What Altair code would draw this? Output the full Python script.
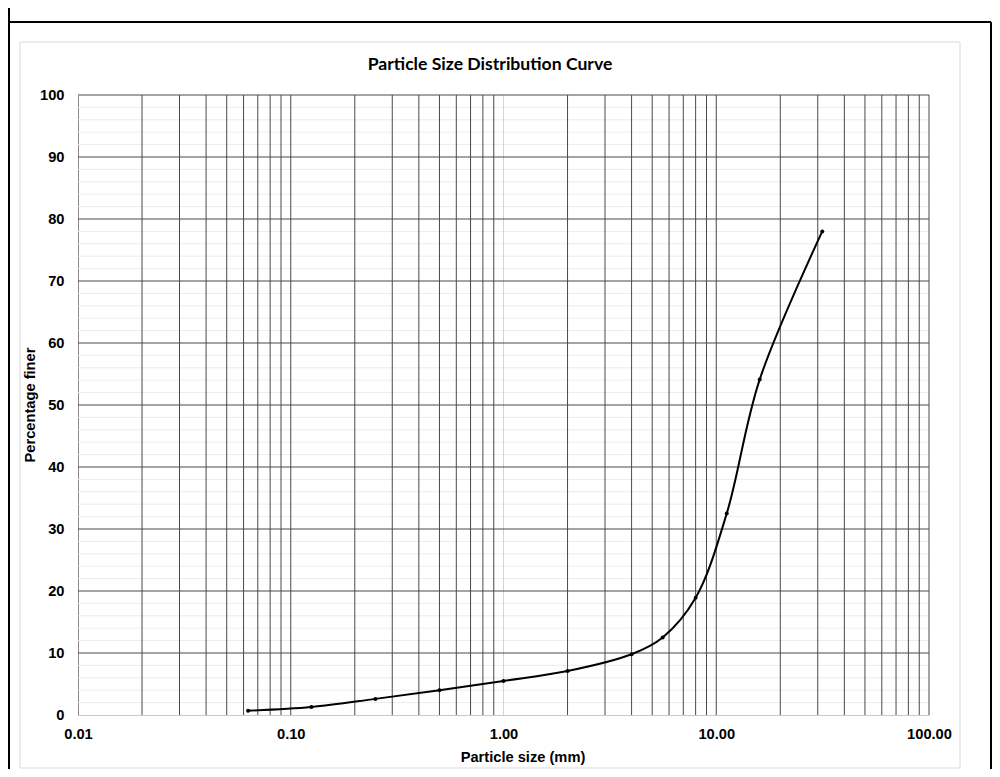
import altair as alt
import pandas as pd

# ---- data ----
sizes = [0.063, 0.125, 0.25, 0.5, 1.0, 2.0, 4.0, 5.6, 8.0, 11.2, 16.0, 31.5]
finer = [0.7, 1.3, 2.6, 4.0, 5.5, 7.1, 9.8, 12.5, 18.9, 32.5, 54.1, 78.0]

x_ticks = [0.01, 0.1, 1, 10, 100]
y_ticks = list(range(0, 101, 10))

chart_title = "Particle Size Distribution Curve"
x_title = "Particle size (mm)"
y_title = "Percentage finer"

# grid positions (log-cycle lines and 2% minor lines)
v_grid = [round(m * 10 ** e, 6) for e in range(-2, 2) for m in range(1, 10)
          if not (m == 1 and e == -2)] + [100]
v_grid_dark = [v for v in v_grid if v != 1]
v_grid_light = [1]
h_major = list(range(10, 101, 10))
h_minor = [v for v in range(2, 100, 2) if v % 10]

W, H = 851, 620
LBL_FONT = "Liberation Sans"
FS = 14.67

xscale = alt.Scale(type="log", domain=[0.01, 100], nice=False)
yscale = alt.Scale(domain=[0, 100], nice=False, zero=False)

xaxis = alt.Axis(values=x_ticks, format=".2f", grid=False, ticks=False, tickSize=0,
                 labelPadding=11, labelFont=LBL_FONT, labelFontSize=FS,
                 labelFontWeight="bold", labelColor="#000000",
                 domainColor="#c8c8c8", domainWidth=1, title="",
                 labelFlush=False, labelOverlap=False)
yaxis = alt.Axis(values=y_ticks, format="d", grid=False, ticks=False, tickSize=0,
                 labelPadding=14, labelFont=LBL_FONT, labelFontSize=FS,
                 labelFontWeight="bold", labelColor="#000000",
                 domainColor="#8a8a8a", domainWidth=1, title="",
                 labelFlush=False, labelOverlap=False)

curve_df = pd.DataFrame({"x": sizes, "y": finer})
dummy = alt.Data(values=[{"a": 1}])

GRID_DARK = "#4a4a4a"

minor_h = alt.Chart(pd.DataFrame({"y": h_minor})).mark_rule(
    color="#ececec", strokeWidth=1).encode(y=alt.Y("y:Q", scale=yscale, axis=yaxis))

dark_v = alt.Chart(pd.DataFrame({"x": v_grid_dark})).mark_rule(
    color=GRID_DARK, strokeWidth=1).encode(x=alt.X("x:Q", scale=xscale, axis=xaxis))

light_v = alt.Chart(pd.DataFrame({"x": v_grid_light})).mark_rule(
    color="#d4d4d4", strokeWidth=1).encode(x=alt.X("x:Q", scale=xscale, axis=xaxis))

major_h = alt.Chart(pd.DataFrame({"y": h_major})).mark_rule(
    color=GRID_DARK, strokeWidth=1).encode(y=alt.Y("y:Q", scale=yscale, axis=yaxis))

line = alt.Chart(curve_df).mark_line(
    interpolate="catmull-rom", color="#000000", strokeWidth=2).encode(
    x=alt.X("x:Q", scale=xscale, axis=xaxis),
    y=alt.Y("y:Q", scale=yscale, axis=yaxis))

pts = alt.Chart(curve_df).mark_circle(size=16, color="#000000", opacity=1).encode(
    x=alt.X("x:Q", scale=xscale, axis=xaxis),
    y=alt.Y("y:Q", scale=yscale, axis=yaxis))

title_txt = alt.Chart(dummy).mark_text(
    font="Lato", fontSize=17.6, fontWeight="bold", color="#000000",
    align="center", baseline="middle").encode(
    x=alt.value(412), y=alt.value(-30), text=alt.value(chart_title))

xtitle_txt = alt.Chart(dummy).mark_text(
    font=LBL_FONT, fontSize=FS, fontWeight="bold", color="#000000",
    align="center", baseline="alphabetic").encode(
    x=alt.value(445), y=alt.value(667), text=alt.value(x_title))

ytitle_txt = alt.Chart(dummy).mark_text(
    font=LBL_FONT, fontSize=FS, fontWeight="bold", color="#000000",
    align="center", baseline="middle", angle=270).encode(
    x=alt.value(-47), y=alt.value(310), text=alt.value(y_title))

gray_box = alt.Chart(dummy).mark_rect(
    fillOpacity=0, stroke="#d9d9d9", strokeWidth=1).encode(
    x=alt.value(-58), x2=alt.value(882), y=alt.value(-53), y2=alt.value(673))

border_left = alt.Chart(dummy).mark_rule(color="#000000", strokeWidth=2).encode(
    x=alt.value(-69), x2=alt.value(-69), y=alt.value(-87), y2=alt.value(674))
border_top = alt.Chart(dummy).mark_rule(color="#000000", strokeWidth=2).encode(
    x=alt.value(-69), x2=alt.value(913), y=alt.value(-73), y2=alt.value(-73))
border_right = alt.Chart(dummy).mark_rule(color="#000000", strokeWidth=2).encode(
    x=alt.value(913), x2=alt.value(913), y=alt.value(-73), y2=alt.value(674))

chart = alt.layer(
    minor_h, dark_v, light_v, major_h, line, pts,
    title_txt, xtitle_txt, ytitle_txt, gray_box,
    border_left, border_top, border_right
).properties(
    width=W, height=H,
    autosize=alt.AutoSizeParams(type="none"),
    padding={"left": 70, "top": 87, "right": 63, "bottom": 54},
    background="#ffffff"
).configure_view(stroke=None)

chart.save("out.html", embed_options={"renderer": "svg", "actions": False})
